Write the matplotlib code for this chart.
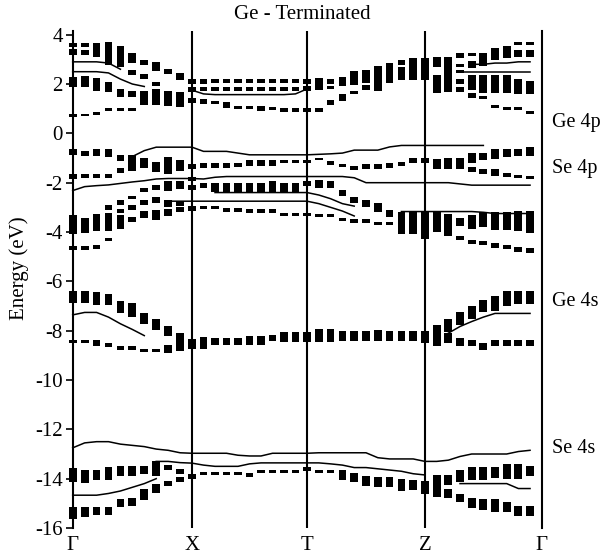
import numpy as np
import matplotlib
matplotlib.use('Agg')
import matplotlib.pyplot as plt

plt.rcParams['font.family'] = ['Liberation Serif', 'DejaVu Serif']
plt.rcParams['axes.unicode_minus'] = False

nan = np.nan

# high-symmetry path
kpoint_labels = ['Γ', 'X', 'T', 'Z', 'Γ']
kpoint_pos = [0.0, 1.0, 1.964, 2.953, 3.931]
n_per_segment = 10

# fat bands: energy (eV) and weight (mark height, eV) at each k column
# columns: 0-10 Γ-X (10 = X), 11-20 X-T (20 = T), 21-30 T-Z (30 = Z), 31-39 Z-Γ
cb1_e = [3.59, 3.59, 3.59, 3.24, 3.12, 3.06, 2.86, 2.71, 2.5, 2.3, 2.09,
         2.12, 2.12, 2.12, 2.12, 2.12, 2.12, 2.12, 2.12, 2.12, 2.12,
         2.0, 2.1, 2.1, 2.24, 2.31, 2.22, 2.44, 2.87, 2.62, 2.62,
         2.9, 2.4, 3.15, 3.2, 3.0, 3.22, 3.3, 3.65, 3.65]
cb1_w = [0.14, 0.14, 0.14, 0.95, 0.88, 0.4, 0.2, 0.4, 0.2, 0.27, 0.2,
         0.2, 0.14, 0.14, 0.14, 0.14, 0.14, 0.14, 0.14, 0.14, 0.2,
         0.47, 0.2, 0.34, 0.54, 0.54, 1.0, 0.8, 0.2, 0.88, 0.88,
         0.4, 1.42, 0.2, 0.14, 0.54, 0.47, 0.47, 0.14, 0.14]
cb2_e = [3.3, 3.27, 3.3, 1.87, 1.63, 2.48, 2.3, 2.0, 1.4, 1.37, 1.77,
         1.8, 1.8, 1.8, 1.8, 1.8, 1.8, 1.8, 1.8, 1.8, 1.8,
         0.95, 1.85, 1.45, 1.65, 1.85, nan, nan, 2.42, nan, nan,
         2.0, nan, 2.75, 2.8, 2.0, 2.0, 2.0, 3.25, 3.25]
cb2_w = [0.27, 0.2, 0.4, 0.4, 0.34, 0.2, 0.2, 0.14, 0.6, 0.6, 0.2,
         0.14, 0.14, 0.14, 0.14, 0.14, 0.14, 0.14, 0.14, 0.14, 0.2,
         0.14, 0.14, 0.27, 0.14, 0.2, 0, 0, 0.54, 0, 0,
         0.74, 0, 0.14, 0.27, 0.74, 0.74, 0.74, 0.27, 0.27]
cb3_e = [2.07, 2.1, 1.97, 0.96, 0.96, 1.6, 1.43, 1.47, nan, nan, 1.33,
         1.3, 1.25, 1.15, 1.05, 1.05, 1.02, 1.0, 0.95, 0.95, 0.95,
         nan, 1.25, nan, nan, nan, nan, nan, nan, nan, nan,
         nan, nan, 2.5, 2.05, 1.45, 1.1, 1.0, 1.9, 1.85]
cb3_w = [0.4, 0.47, 0.54, 0.11, 0.11, 0.27, 0.54, 0.68, 0, 0, 0.2,
         0.2, 0.14, 0.27, 0.14, 0.14, 0.2, 0.14, 0.14, 0.14, 0.14,
         0, 0.2, 0, 0, 0, 0, 0, 0, 0, 0,
         0, 0, 0.14, 0.6, 0.14, 0.14, 0.14, 0.6, 0.54]
cb4_e = [0.72, 0.75, 0.8, nan, nan, 0.96, nan, nan, nan, nan, nan,
         nan, nan, nan, nan, nan, nan, nan, nan, nan, nan,
         nan, nan, nan, nan, nan, nan, nan, nan, nan, nan,
         nan, nan, 2.1, 1.55, nan, nan, nan, 1.0, 0.85]
cb4_w = [0.11, 0.11, 0.11, 0, 0, 0.11, 0, 0, 0, 0, 0,
         0, 0, 0, 0, 0, 0, 0, 0, 0, 0,
         0, 0, 0, 0, 0, 0, 0, 0, 0, 0,
         0, 0, 0.2, 0.2, 0, 0, 0, 0.14, 0.14]
cb5_e = [nan] * 33 + [1.78] + [nan] * 6
cb5_w = [0] * 33 + [0.2] + [0] * 6

vb1_e = [-0.76, -0.8, -0.77, -0.8, -1.0, -1.2, -1.2, -1.35, -1.3, -1.3, -1.35,
         -1.3, -1.3, -1.3, -1.28, -1.2, -1.2, -1.2, -1.13, -1.13, -1.13,
         -1.05, -1.2, -1.3, -1.4, -1.35, -1.35, -1.3, -1.25, -1.1, -1.1,
         -1.25, -1.22, -1.22, -1.0, -0.95, -0.85, -0.8, -0.77, -0.74]
vb1_w = [0.27, 0.2, 0.27, 0.34, 0.27, 0.68, 0.4, 0.4, 0.68, 0.47, 0.2,
         0.2, 0.2, 0.2, 0.14, 0.27, 0.27, 0.27, 0.14, 0.14, 0.14,
         0.1, 0.14, 0.14, 0.14, 0.2, 0.23, 0.2, 0.14, 0.2, 0.2,
         0.4, 0.47, 0.47, 0.4, 0.27, 0.4, 0.34, 0.27, 0.34]
vb2_e = [-1.75, -1.72, -1.72, -1.72, -1.5, -2.6, -2.3, -2.2, -2.15, -2.1, -1.85,
         -2.12, -2.2, -2.2, -2.2, -2.2, -2.2, -2.15, -2.2, -2.2, -2.05,
         -2.05, -2.08, -2.42, -2.7, -2.85, -3.0, -3.25, -3.65, -3.65, -3.75,
         -3.6, -3.65, -3.6, -1.45, -1.55, -1.6, -1.68, -1.75, -1.78]
vb2_w = [0.2, 0.14, 0.14, 0.14, 0.2, 0.14, 0.14, 0.2, 0.4, 0.34, 0.14,
         0.2, 0.34, 0.38, 0.38, 0.38, 0.38, 0.47, 0.38, 0.38, 0.2,
         0.34, 0.3, 0.27, 0.27, 0.27, 0.38, 0.3, 0.9, 0.9, 1.1,
         0.8, 0.74, 0.34, 0.2, 0.18, 0.27, 0.14, 0.14, 0.14]
vb3_e = [-3.7, -3.72, -3.6, -3.0, -2.8, -3.0, -2.8, -2.7, -2.85, -2.85, -2.2,
         -3.0, -3.0, -3.1, -3.1, -3.15, -3.15, -3.15, -3.3, -3.3, -3.3,
         -3.33, -3.33, -3.5, -3.55, -3.55, -3.66, -3.66, nan, nan, nan,
         nan, -4.1, -4.25, -3.6, -3.5, -3.55, -3.55, -3.55, -3.58]
vb3_w = [0.8, 0.6, 0.7, 0.2, 0.2, 0.2, 0.2, 0.27, 0.27, 0.2, 0.2,
         0.14, 0.14, 0.14, 0.14, 0.14, 0.14, 0.14, 0.14, 0.14, 0.14,
         0.14, 0.14, 0.14, 0.14, 0.14, 0.14, 0.14, 0, 0, 0,
         0, 0.14, 0.14, 0.54, 0.6, 0.74, 0.74, 0.8, 0.88]
vb4_e = [-4.65, -4.65, -4.6, -3.6, -3.15, -3.5, -3.3, -3.3, -3.2, -3.1, -3.05,
         nan, nan, nan, nan, nan, nan, nan, nan, nan, nan,
         nan, nan, nan, nan, nan, nan, nan, nan, nan, nan,
         nan, nan, nan, -4.4, -4.45, -4.55, -4.6, -4.7, -4.75]
vb4_w = [0.14, 0.14, 0.14, 0.74, 0.14, 0.2, 0.27, 0.4, 0.27, 0.2, 0.2,
         0, 0, 0, 0, 0, 0, 0, 0, 0, 0,
         0, 0, 0, 0, 0, 0, 0, 0, 0, 0,
         0, 0, 0, 0.14, 0.14, 0.2, 0.14, 0.2, 0.2]
vb5_e = [nan, nan, nan, -4.3, -3.6] + [nan] * 35
vb5_w = [0, 0, 0, 0.14, 0.54] + [0] * 35

ge4s1_e = [-6.64, -6.64, -6.7, -6.74, -7.05, -7.16, -7.5, -7.75, -8.0, -8.45, -8.55,
           -8.5, -8.45, -8.45, -8.45, -8.4, -8.4, -8.3, -8.25, -8.25, -8.25,
           -8.2, -8.2, -8.2, -8.2, -8.2, -8.2, -8.2, -8.2, -8.2, -8.25,
           -8.2, -7.8, -7.5, -7.25, -7.0, -6.9, -6.7, -6.65, -6.65]
ge4s1_w = [0.47, 0.47, 0.54, 0.47, 0.47, 0.54, 0.47, 0.47, 0.4, 0.74, 0.4,
           0.47, 0.27, 0.27, 0.27, 0.4, 0.4, 0.27, 0.4, 0.4, 0.4,
           0.54, 0.54, 0.4, 0.4, 0.4, 0.47, 0.4, 0.4, 0.4, 0.47,
           0.87, 0.54, 0.54, 0.54, 0.47, 0.6, 0.6, 0.54, 0.54]
ge4s2_e = [-8.44, -8.44, -8.5, -8.57, -8.7, -8.7, -8.8, -8.8, -8.75, nan, nan,
           nan, nan, nan, nan, nan, nan, nan, nan, nan, nan,
           nan, nan, nan, nan, nan, nan, nan, nan, nan, nan,
           nan, -8.3, -8.45, -8.5, -8.65, -8.5, -8.5, -8.5, -8.5]
ge4s2_w = [0.15, 0.15, 0.27, 0.15, 0.15, 0.15, 0.15, 0.15, 0.3, 0, 0,
           0, 0, 0, 0, 0, 0, 0, 0, 0, 0,
           0, 0, 0, 0, 0, 0, 0, 0, 0, 0,
           0, 0.4, 0.33, 0.27, 0.27, 0.27, 0.27, 0.27, 0.27]

se4s1_e = [-13.85, -13.9, -13.85, -13.8, -13.7, -13.7, -13.65, -13.6, -13.55, -13.7, -13.9,
           -13.8, -13.8, -13.8, -13.8, -13.85, -13.72, -13.7, -13.72, -13.72, -13.6,
           -13.7, -13.7, -13.85, -13.95, -14.1, -14.15, -14.15, -14.25, -14.25, -14.35,
           -14.3, -14.05, -13.9, -13.8, -13.8, -13.75, -13.7, -13.7, -13.7]
se4s1_w = [0.54, 0.54, 0.4, 0.54, 0.4, 0.4, 0.33, 0.6, 0.2, 0.2, 0.2,
           0.14, 0.14, 0.14, 0.14, 0.14, 0.14, 0.14, 0.14, 0.14, 0.14,
           0.11, 0.14, 0.4, 0.4, 0.4, 0.4, 0.4, 0.47, 0.4, 0.54,
           0.87, 0.4, 0.47, 0.54, 0.54, 0.47, 0.6, 0.6, 0.4]
se4s2_e = [-15.4, -15.35, -15.3, -15.3, -15.0, -14.95, -14.65, -14.4, -14.2, -14.05, nan,
           nan, nan, nan, nan, nan, nan, nan, nan, nan, nan,
           nan, nan, nan, nan, nan, nan, nan, nan, nan, nan,
           nan, -14.6, -14.8, -15.0, -15.05, -15.1, -15.15, -15.3, -15.3]
se4s2_w = [0.47, 0.4, 0.33, 0.33, 0.33, 0.33, 0.47, 0.33, 0.2, 0.2, 0,
           0, 0, 0, 0, 0, 0, 0, 0, 0, 0,
           0, 0, 0, 0, 0, 0, 0, 0, 0, 0,
           0, 0.4, 0.33, 0.4, 0.47, 0.54, 0.4, 0.4, 0.4]

# thin lines (other bands), same k columns
line_a = [2.9, 2.9, 2.9, 2.85, 2.6] + [nan] * 35
line_b = [2.5, 2.5, 2.5, 2.45, 2.2, 2.0, 1.9] + [nan] * 33
line_c = [nan] * 10 + [1.75, 1.6, 1.57, 1.57, 1.57, 1.57, 1.57, 1.57, 1.57, 1.6, 1.8] + [nan] * 19
line_d = [nan] * 34 + [2.8, 2.8, 2.85, 2.85, 2.9, 2.9]
line_e = [nan] * 33 + [2.5, 2.5, 2.5, 2.5, 2.5, 2.5, 2.5]
line_f = [nan, nan, nan, nan, nan, -0.94, -0.7, -0.56, -0.56, -0.56, -0.56,
          -0.73, -0.73, -0.73, -0.8, -0.87, -0.87, -0.87, -0.87, -0.87, -0.87,
          -0.85, -0.83, -0.8, -0.68, -0.68, -0.68, -0.55, -0.49, -0.49, -0.49,
          -0.49, -0.49, -0.49, -0.49, -0.49, nan, nan, nan, nan]
line_g = [-2.32, -2.16, -2.12, -2.09, -2.03, -1.97, -1.92, -1.85, -1.83, -1.83, -1.83,
          -1.85, -1.78, -1.75, -1.75, -1.75, -1.75, -1.75, -1.75, -1.75, -1.75,
          -1.75, -1.75, -1.75, -1.8, -2.0, -2.0, -2.0, -2.0, -2.0, -2.0,
          -2.0, -2.0, -2.05, -2.1, -2.1, -2.1, -2.1, -2.1, -2.1]
line_h = [nan] * 8 + [-2.75, -2.75, -2.75,
                      -2.75, -2.75, -2.75, -2.75, -2.75, -2.75, -2.75, -2.75, -2.75, -2.75,
                      -2.85, -3.0, -3.15, -3.35] + [nan] * 15
line_i = [nan] * 12 + [-2.4, -2.4, -2.4, -2.4, -2.4, -2.4, -2.4, -2.4, -2.4,
                       -2.5, -2.65, -2.85, -2.95] + [nan] * 15
line_j = [nan] * 28 + [-3.17, -3.17, -3.17,
                       -3.17, -3.17, -3.17, -3.17, -3.2, -3.25, -3.25, -3.25, -3.25]
line_k = [-7.36, -7.26, -7.26, -7.45, -7.72, -7.95, -8.2] + [nan] * 33
line_l = [nan] * 32 + [-8.1, -7.83, -7.63, -7.45, -7.3, -7.3, -7.3, -7.3]
line_m = [-12.75, -12.55, -12.5, -12.5, -12.6, -12.65, -12.7, -12.8, -12.85, -12.95, -12.97,
          -12.97, -12.97, -12.97, -13.05, -13.08, -13.08, -12.97, -12.97, -12.97, -12.97,
          -12.95, -12.95, -12.95, -12.95, -12.95, -13.15, -13.2, -13.2, -13.2, -13.3,
          -13.3, -13.25, -13.1, -13.0, -13.0, -13.0, -13.0, -12.9, -12.85]
line_n = [nan] * 7 + [-13.3, -13.3, -13.35, -13.37,
                      -13.45, -13.5, -13.5, -13.5, -13.4, -13.36, -13.36, -13.36, -13.36, -13.36,
                      -13.36, -13.4, -13.45, -13.55, -13.55, -13.6, -13.65, -13.7, -13.8, -13.85] + [nan] * 9
line_o = [-14.67, -14.67, -14.67, -14.6, -14.5, -14.35, -14.2, -14.0] + [nan] * 25 + \
         [-14.2, -14.2, -14.2, -14.2, -14.2, -14.4, -14.4]

orbital_labels = ['Ge 4p', 'Se 4p', 'Ge 4s', 'Se 4s']
orbital_label_baseline = [127, 173, 306, 453]  # pixel rows

fat_bands = [(cb1_e, cb1_w), (cb2_e, cb2_w), (cb3_e, cb3_w), (cb4_e, cb4_w), (cb5_e, cb5_w),
             (vb1_e, vb1_w), (vb2_e, vb2_w), (vb3_e, vb3_w), (vb4_e, vb4_w), (vb5_e, vb5_w),
             (ge4s1_e, ge4s1_w), (ge4s2_e, ge4s2_w), (se4s1_e, se4s1_w), (se4s2_e, se4s2_w)]
thin_lines = [line_a, line_b, line_c, line_d, line_e, line_f, line_g, line_h,
              line_i, line_j, line_k, line_l, line_m, line_n, line_o]

k = np.concatenate([np.linspace(kpoint_pos[i], kpoint_pos[i + 1], n_per_segment, endpoint=False)
                    for i in range(len(kpoint_pos) - 1)])

fig = plt.figure(figsize=(6.02, 5.56), dpi=100)
ax = fig.add_axes([72.7 / 602, 28 / 556, 469 / 602, 497 / 556])

for e, w in fat_bands:
    e = np.array(e, dtype=float)
    w = np.array(w, dtype=float)
    ok = ~np.isnan(e) & (w > 0)
    ax.bar(k[ok], w[ok], bottom=e[ok] - w[ok] / 2, width=0.065,
           color='black', linewidth=0, clip_on=False)

for line in thin_lines:
    ax.plot(k, np.array(line, dtype=float), color='black', lw=1.1, clip_on=False)

for x in kpoint_pos[1:-1]:
    ax.axvline(x, color='black', lw=1.5)

ax.set_xlim(kpoint_pos[0], kpoint_pos[-1])
ax.set_ylim(-16, 4.15)
ax.set_xticks(kpoint_pos)
ax.set_xticklabels(kpoint_labels, fontsize=15)
ax.set_yticks(np.arange(-16, 5, 2))
ax.tick_params(axis='x', length=0, pad=6)
ax.tick_params(axis='y', direction='out', length=5, width=1.2, pad=2, labelsize=15)
for side in ['top', 'bottom']:
    ax.spines[side].set_visible(False)
for side in ['left', 'right']:
    ax.spines[side].set_linewidth(1.5)

fig.text(19 / 602, 1 - 268 / 556, 'Energy (eV)', rotation=90, ha='center', va='center', fontsize=15)
fig.text(302.5 / 602, 1 - 19 / 556, 'Ge - Terminated', ha='center', va='baseline', fontsize=15)
for label, y in zip(orbital_labels, orbital_label_baseline):
    fig.text(552 / 602, 1 - y / 556, label, ha='left', va='baseline', fontsize=14.5)

fig.savefig('out.png', dpi=100)
